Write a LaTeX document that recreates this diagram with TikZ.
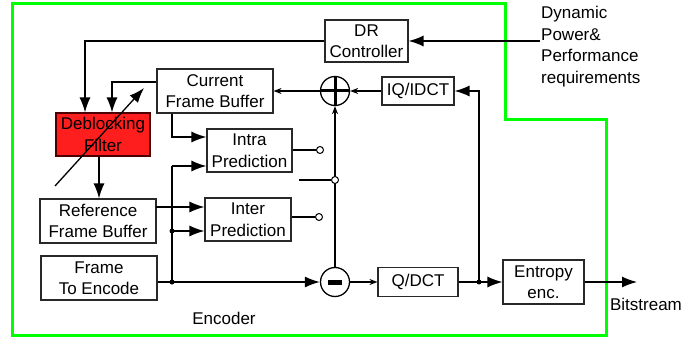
\documentclass[tikz,border=0pt]{standalone}
\usepackage{fontspec}
\setmainfont{Liberation Sans}
\usetikzlibrary{arrows.meta}
\newcommand\diagfont{\fontsize{17}{21.5}\selectfont}
\definecolor{brightgreen}{RGB}{0,255,0}
\definecolor{dfred}{RGB}{255,30,30}
\definecolor{boxline}{RGB}{40,40,40}
\begin{document}
\begin{tikzpicture}[x=1pt,y=-1pt,
  box/.style={draw=boxline,line width=1.1pt,fill=white,inner sep=0pt,align=center,font=\diagfont},
  lbl/.style={inner sep=0pt,font=\diagfont},
  ln/.style={line width=1.3pt,black},
  big/.style={-{Latex[length=15pt,width=11pt]}},
  small/.style={-{Stealth[length=8pt,width=6pt]}},
  sw/.style={circle,draw=black,fill=white,line width=1pt,minimum size=7pt,inner sep=0pt},
  sum/.style={circle,draw=black,fill=white,line width=1.3pt,minimum size=29pt,inner sep=0pt},
  dot/.style={circle,fill=black,minimum size=5pt,inner sep=0pt}]
\useasboundingbox (0,0) rectangle (685,339);
\draw[brightgreen,line width=3pt] (12,4) -- (505,4) -- (505,120) -- (606,120) -- (606,335) -- (12,335) -- cycle;

\node[box,minimum width=83pt,minimum height=42pt] (dr) at (366.5,41) {DR\\Controller};
\node[box,minimum width=116pt,minimum height=44pt] (cfb) at (215,91) {Current\\Frame Buffer};
\node[box,fill=dfred,draw=black!70!red,minimum width=94pt,minimum height=43pt] (df) at (103,134.5) {Deblocking\\Filter};
\node[box,minimum width=116pt,minimum height=44pt] (rfb) at (98,221) {Reference\\Frame Buffer};
\node[box,minimum width=116pt,minimum height=44pt] (fte) at (99,278) {Frame\\To Encode};
\node[box,minimum width=85pt,minimum height=43pt] (intra) at (249.5,150.5) {Intra\\Prediction};
\node[box,minimum width=86pt,minimum height=43pt] (inter) at (248,219.5) {Inter\\Prediction};
\node[box,minimum width=72pt,minimum height=28pt] (iq) at (418,91) {IQ/IDCT};
\node[box,minimum width=80pt,minimum height=29pt] (qdct) at (418,282) {Q/DCT};
\node[box,minimum width=81pt,minimum height=44pt] (ent) at (543.5,282) {Entropy\\enc.};

\node[sum] (plus) at (335,91) {};
\draw[line width=3pt] (plus.north) -- (plus.south) (plus.west) -- (plus.east);
\node[sum] (minus) at (335,282) {};
\fill (328,279.5) rectangle (342,284.5);

\node[lbl,anchor=west,align=left] (dyn) at (541,46.5) {Dynamic\\Power\&\\Performance\\requirements};
\node[lbl] (bitl) at (646,304) {Bitstream};
\node[lbl] (encl) at (224,318) {Encoder};

\coordinate (din) at (540,41);
\coordinate (xa) at (85,0);
\coordinate (xb) at (112,0);
\coordinate (xs) at (99,0);
\coordinate (bx) at (172,0);
\coordinate (ja) at (172,166);
\coordinate (jb) at (172,231);
\coordinate (jc) at (172,282);
\coordinate (jd) at (479,282);
\coordinate (ri) at (156,207);
\coordinate (swin) at (299,180);
\coordinate (d1) at (55,186);
\coordinate (d2) at (144,88);
\coordinate (bits) at (637,282);

\draw[ln,big] (din) -- (dr.east);
\draw[ln,big] (dr.west) -| (df.north -| xa);
\draw[ln,big] ([yshift=9pt]cfb.west) -| (df.north -| xb);
\draw[ln,big] (df.south -| xs) -- (rfb.north -| xs);
\draw[ln,big] (cfb.south -| bx) |- ([yshift=13.5pt]intra.west);
\draw[ln,big] (ja) -- (intra.west |- ja);
\draw[ln] (ja) -- (jc);
\draw[ln,big] (jb) -- (inter.west |- jb);
\draw[ln,big] (ri) -- (inter.west |- ri);
\draw[ln,big] (fte.east |- jc) -- (minus.west);
\draw[ln,small] (minus.east) -- (qdct.west);
\draw[ln,big] (qdct.east) -- (ent.west);
\draw[ln,big] (jd) |- (iq.east);
\draw[ln,small] (iq.west) -- (plus.east);
\draw[ln,small] (plus.west) -- (cfb.east |- plus);
\draw[ln,small] (minus.north) -- (plus.south);
\draw[ln,big] (ent.east) -- (bits);

\node[sw] (s1) at (320,150) {};
\node[sw] (s2) at (319,217) {};
\node[sw] (s3) at (335,180) {};
\draw[ln] (intra.east |- s1) -- (s1.west);
\draw[ln] (inter.east |- s2) -- (s2.west);
\draw[ln] (swin) -- (s3.west);

\node[dot] at (jb) {};
\node[dot] at (jc) {};
\node[dot] at (jd) {};

\draw[ln,big] (d1) -- (d2);
\end{tikzpicture}
\end{document}
